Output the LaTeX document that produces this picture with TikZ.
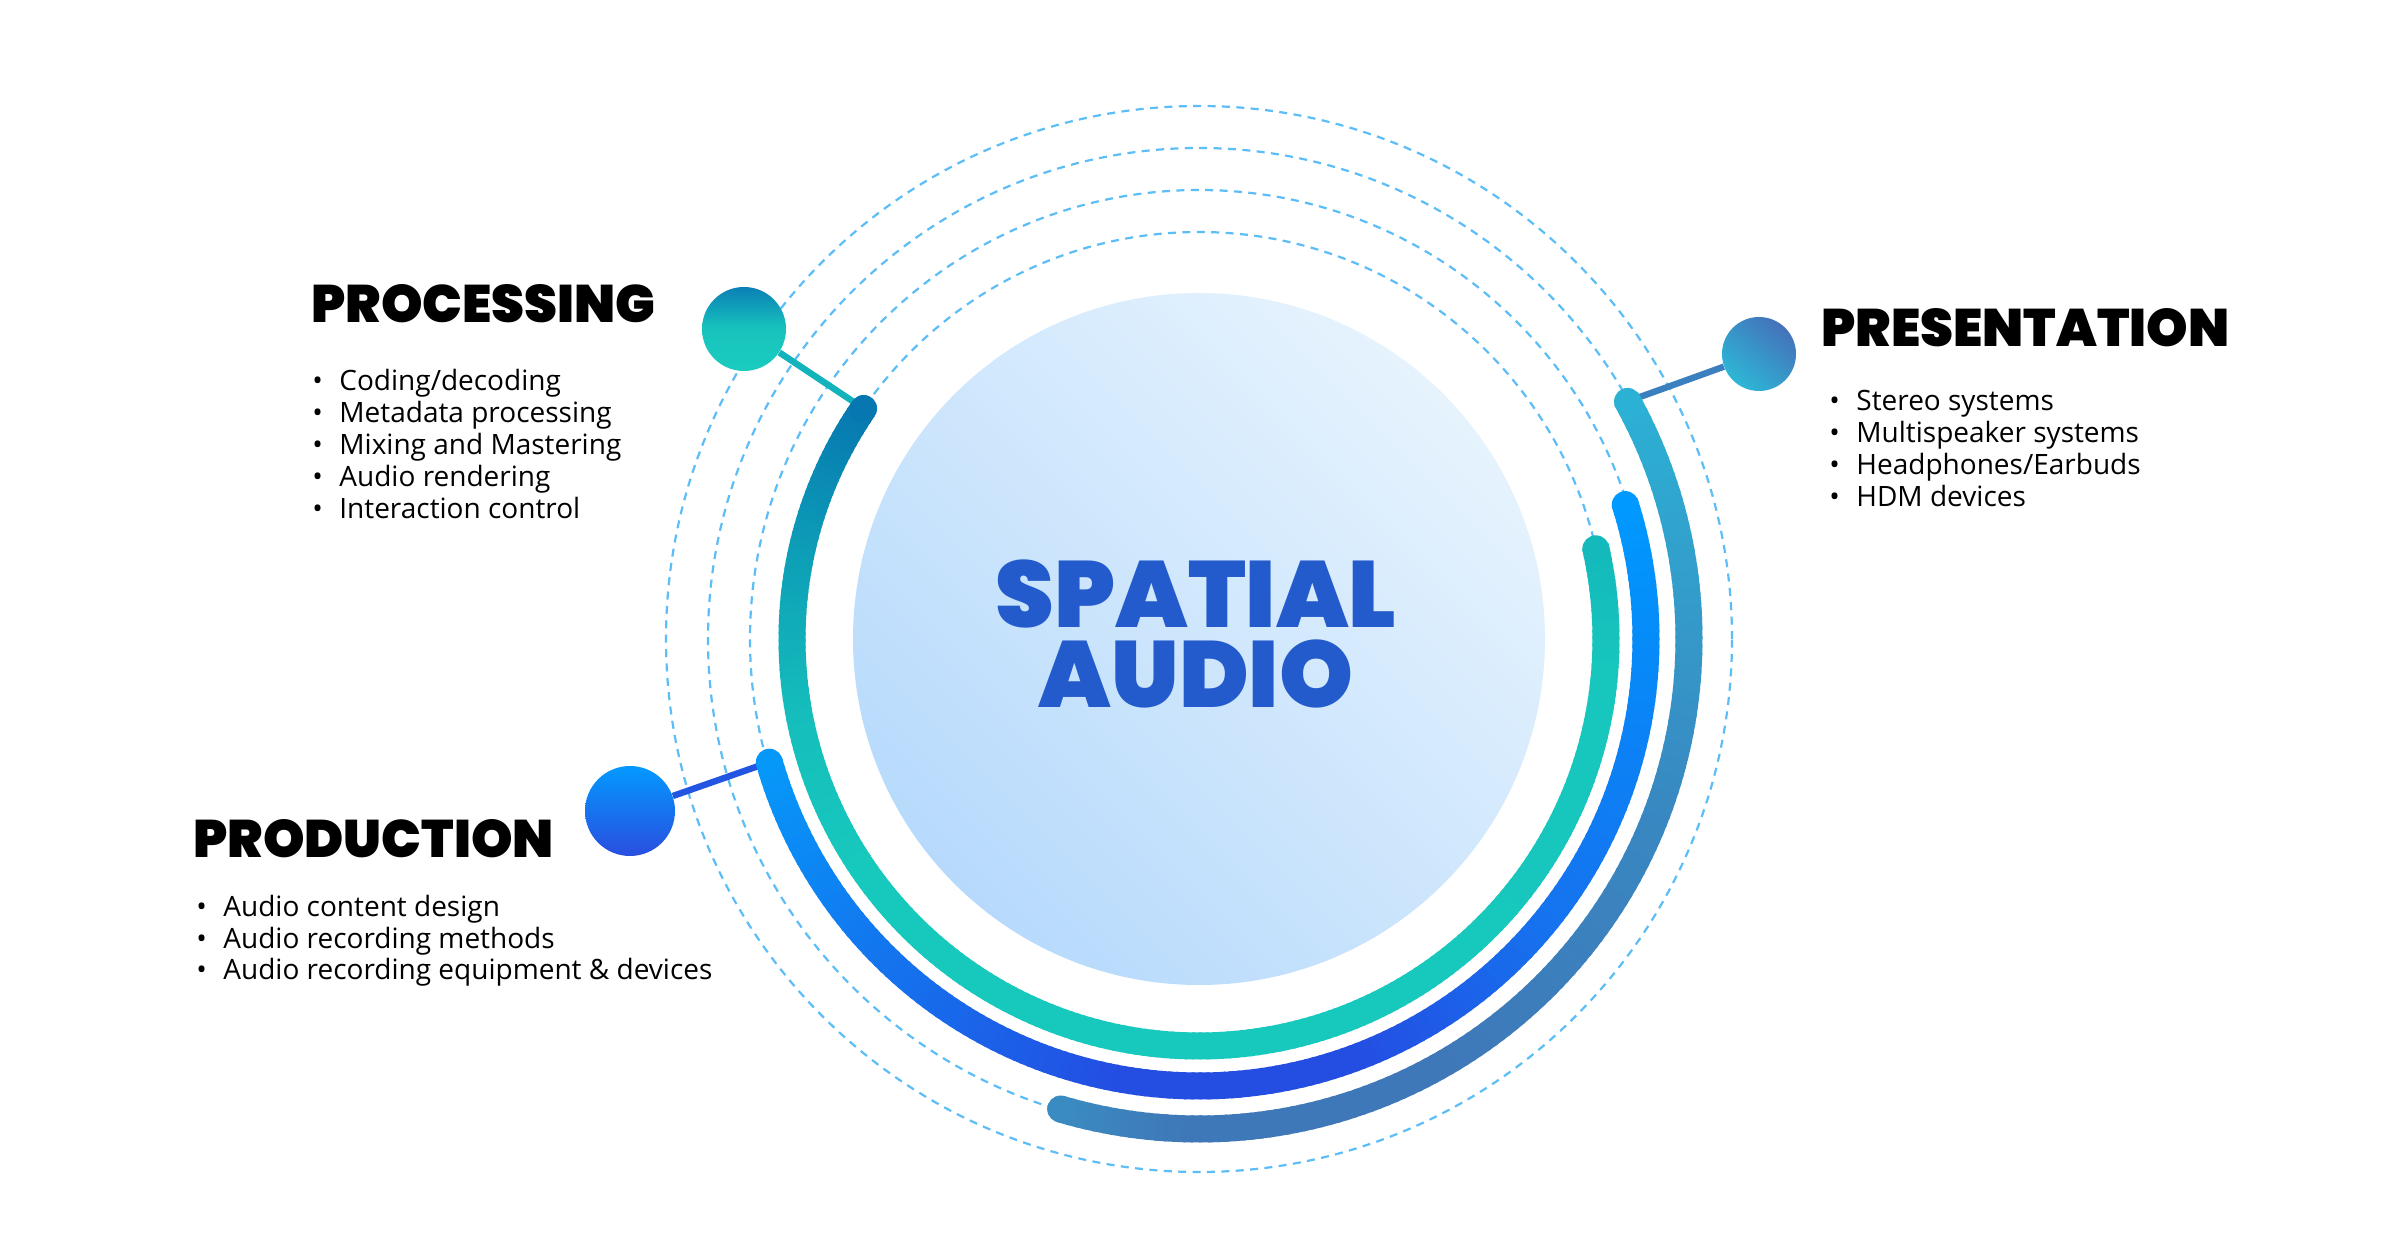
\documentclass[tikz,border=0pt]{standalone}
\usepackage{fontspec}
\setmainfont{Open Sans}
\newfontfamily\headfont{Poppins Black}
\usetikzlibrary{calc}
% colours
\definecolor{ringblue}{HTML}{5CBDF7}
\definecolor{coreA}{HTML}{E6F3FD}
\definecolor{coreB}{HTML}{B7DAFC}
\definecolor{titleblue}{HTML}{245BCC}
% teal arc stops
\definecolor{tA}{HTML}{0677B1}
\definecolor{tB}{HTML}{0DA0B7}
\definecolor{tC}{HTML}{15BEBC}
\definecolor{tD}{HTML}{17C9BD}
\definecolor{tE}{HTML}{17C7BD}
\definecolor{tF}{HTML}{13B9BB}
% blue arc stops
\definecolor{bA}{HTML}{0698F9}
\definecolor{bB}{HTML}{1375EE}
\definecolor{bC}{HTML}{244DE2}
\definecolor{bD}{HTML}{1672EE}
\definecolor{bE}{HTML}{0A84F6}
\definecolor{bF}{HTML}{0099FF}
% outer arc stops
\definecolor{oA}{HTML}{3A8BC1}
\definecolor{oB}{HTML}{3F78B8}
\definecolor{oC}{HTML}{3F78B9}
\definecolor{oD}{HTML}{3888C2}
\definecolor{oE}{HTML}{3598C8}
\definecolor{oF}{HTML}{2BB1D4}
% balls and connectors
\definecolor{procTop}{HTML}{0A7FB6}
\definecolor{procMid}{HTML}{17C4BD}
\definecolor{procBot}{HTML}{1ACBBE}
\definecolor{prodTop}{HTML}{0399FF}
\definecolor{prodBot}{HTML}{2A4EDF}
\definecolor{presTop}{HTML}{4472BA}
\definecolor{presBot}{HTML}{2DB7D6}
\definecolor{procLink}{HTML}{12B3BB}
\definecolor{prodLink}{HTML}{2256E2}
\definecolor{presLink}{HTML}{3A80BF}

% gradient arc piece: #1 radius, #2 width, #3 start angle, #4 end angle, #5 start colour, #6 end colour
\newcommand\garc[6]{%
  \pgfmathtruncatemacro\gn{max(1,round(abs(#4-#3)))}%
  \pgfmathsetmacro\gstep{(#4-#3)/\gn}%
  \foreach \k in {1,...,\gn}{%
    \pgfmathsetmacro\ga{#3+\gstep*(\k-1)}%
    \pgfmathsetmacro\gb{#3+\gstep*\k+0.4}%
    \pgfmathsetmacro\gp{(\k-0.5)/\gn*100}%
    \draw[line width=#2, color=#6!\gp!#5] ($(C)+(\ga:#1)$) arc[start angle=\ga, end angle=\gb, radius=#1];
  }%
}
\newcommand\lbul{\makebox[13.5pt][l]{\textbullet}}

\begin{document}
\begin{tikzpicture}[x=0.5pt,y=0.5pt,
  dashring/.style={draw=ringblue, line width=1.1pt, dash pattern=on 4pt off 3.2pt},
  ball/.style={circle, inner sep=0pt},
  head/.style={anchor=base west, inner sep=0pt, font=\headfont\fontsize{26.4}{30}\selectfont, text=black},
  item/.style={anchor=base west, inner sep=0pt, font=\fontsize{14}{16}\selectfont, text=black},
  title/.style={anchor=center, inner sep=0pt, align=center, font=\headfont\fontsize{47}{40}\selectfont, text=titleblue},
  link/.style={line width=3.2pt}
]
\fill[white] (0,0) rectangle (2400,1254);
\useasboundingbox (0,0) rectangle (2400,1254);

\coordinate (C) at (1199,615);

% dashed rings
\foreach \r in {407,449,491,533}{
  \draw[dashring] (C) circle[radius=\r];
}

% core
\node[circle, minimum size=346pt, inner sep=0pt, top color=coreA, bottom color=coreB, shading angle=-45] (core) at (C) {};
\node[title] (spatial) at (1196,620) {SPATIAL\\AUDIO};

% balls
\node[ball, minimum size=42pt, top color=procTop, bottom color=procBot, middle color=procMid] (procball) at (744,925) {};
\node[ball, minimum size=45pt, top color=prodTop, bottom color=prodBot] (prodball) at (630,443) {};
\node[ball, minimum size=37pt, top color=presTop, bottom color=presBot, shading angle=-40] (presball) at (1759,900) {};

% arc end points
\coordinate (tealstart) at ($(C)+(145.5:407)$);
\coordinate (tealend) at ($(C)+(372.8:407)$);
\coordinate (bluestart) at ($(C)+(196:447)$);
\coordinate (blueend) at ($(C)+(377.5:447)$);
\coordinate (outerstart) at ($(C)+(253.6:490)$);
\coordinate (outerend) at ($(C)+(389:490)$);

% connectors
\draw[link, procLink] (procball) -- (tealstart);
\draw[link, prodLink] (prodball) -- (bluestart);
\draw[link, presLink] (presball) -- (outerend);

% teal arc
\garc{407}{13.5pt}{145.5}{169}{tA}{tB}
\garc{407}{13.5pt}{169}{191}{tB}{tC}
\garc{407}{13.5pt}{191}{215}{tC}{tD}
\garc{407}{13.5pt}{215}{355}{tD}{tE}
\garc{407}{13.5pt}{355}{372.8}{tE}{tF}
\fill[tA] (tealstart) circle[radius=6.75pt];
\fill[tF] (tealend) circle[radius=6.75pt];

% blue arc
\garc{447}{13.5pt}{196}{225}{bA}{bB}
\garc{447}{13.5pt}{225}{260}{bB}{bC}
\garc{447}{13.5pt}{260}{290}{bC}{bC}
\garc{447}{13.5pt}{290}{320}{bC}{bD}
\garc{447}{13.5pt}{320}{350}{bD}{bE}
\garc{447}{13.5pt}{350}{377.5}{bE}{bF}
\fill[bA] (bluestart) circle[radius=6.75pt];
\fill[bF] (blueend) circle[radius=6.75pt];

% outer arc
\garc{490}{13.5pt}{253.6}{268}{oA}{oB}
\garc{490}{13.5pt}{268}{300}{oB}{oC}
\garc{490}{13.5pt}{300}{340}{oC}{oD}
\garc{490}{13.5pt}{340}{360}{oD}{oE}
\garc{490}{13.5pt}{360}{389}{oE}{oF}
\fill[oA] (outerstart) circle[radius=6.75pt];
\fill[oF] (outerend) circle[radius=6.75pt];

% headings
\node[head] (hproc) at (311,931) {PROCESSING};
\node[head] (hpres) at (1821,907) {PRESENTATION};
\node[head] (hprod) at (193,396) {PRODUCTION};

% lists
\node[item] (p1) at (312,863) {\lbul Coding/decoding};
\node[item] (p2) at (312,831) {\lbul Metadata processing};
\node[item] (p3) at (312,799) {\lbul Mixing and Mastering};
\node[item] (p4) at (312,767) {\lbul Audio rendering};
\node[item] (p5) at (312,735) {\lbul Interaction control};

\node[item] (s1) at (1829,843) {\lbul Stereo systems};
\node[item] (s2) at (1829,811) {\lbul Multispeaker systems};
\node[item] (s3) at (1829,779) {\lbul Headphones/Earbuds};
\node[item] (s4) at (1829,747) {\lbul HDM devices};

\node[item] (d1) at (196,337) {\lbul Audio content design};
\node[item] (d2) at (196,305) {\lbul Audio recording methods};
\node[item] (d3) at (196,274) {\lbul Audio recording equipment \& devices};
\end{tikzpicture}
\end{document}
